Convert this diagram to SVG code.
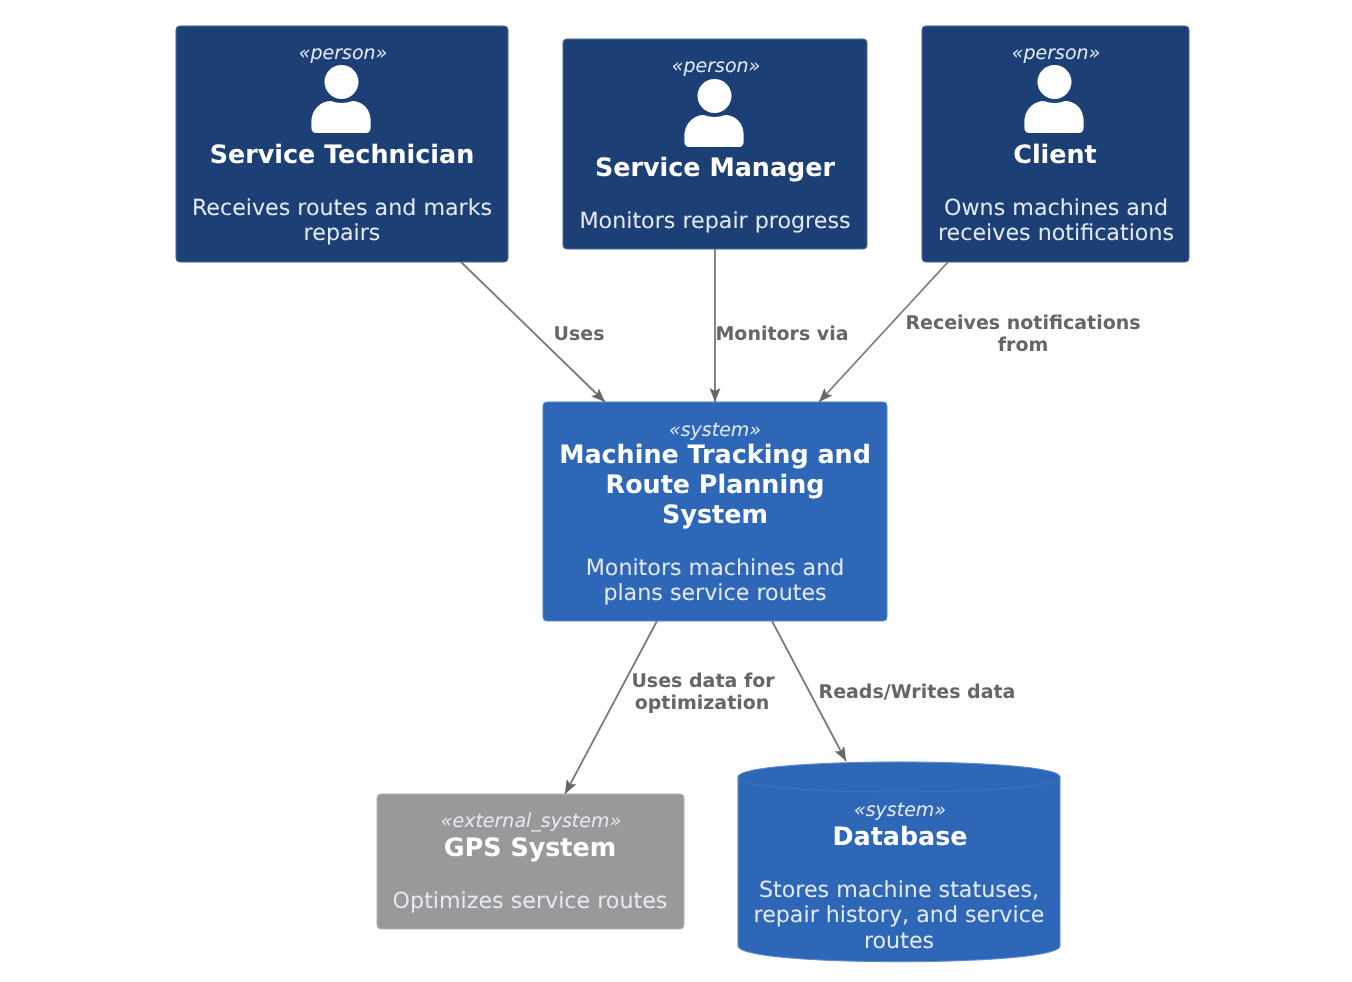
<svg xmlns="http://www.w3.org/2000/svg" width="1352" height="982" viewBox="0 0 1352 982">
<defs>
<filter id="soft" x="0" y="0" width="1352" height="982" filterUnits="userSpaceOnUse" color-interpolation-filters="sRGB"><feGaussianBlur stdDeviation="0.55"/></filter>
<marker id="arrow" markerUnits="userSpaceOnUse" markerWidth="18" markerHeight="16" refX="14" refY="7" orient="auto"><path d="M0,1.500 L14,7 L0,12.500 L3,7 Z" fill="#666666"/></marker>
<symbol id="person" viewBox="0 0 62 70" overflow="visible"><circle cx="31" cy="17.500" r="17.500" fill="#fff"/><path d="M5,70 Q0,70 0,64 L0,57 C1,44 11,37 20,37 Q31,41 42,37 C51,37 61,44 61,57 L61,64 Q61,70 56,70 Z" fill="#fff"/></symbol>
</defs>
<style>
text{font-family:"DejaVu Sans",sans-serif;text-anchor:middle;text-rendering:geometricPrecision}
.st{font-size:19px;font-style:italic;fill:#e4e9f2}
.nm{font-size:25.400px;font-weight:bold;fill:#fff}
.ds{font-size:22.200px;fill:#e4e9f2}
.lb{font-size:19px;font-weight:bold;fill:#666666}
.dark{fill:#1c4076;stroke:#4a6a97;stroke-width:1}
.blue{fill:#2e67b8;stroke:#5a88cc;stroke-width:1}
.gray{fill:#999999;stroke:#b5b5b5;stroke-width:1}
.edge{fill:none;stroke:#777777;stroke-width:1.800;marker-end:url(#arrow)}
</style>
<rect width="1352" height="982" fill="#ffffff"/>
<g filter="url(#soft)">
<g id="connectors">
<path class="edge" d="M461,262 L605,402"/>
<path class="edge" d="M715,249 L715,402"/>
<path class="edge" d="M948,262 L819,402"/>
<path class="edge" d="M657,621 L565,794"/>
<path class="edge" d="M772,621 L846,761"/>
<text class="lb" x="579" y="340">Uses</text>
<text class="lb" x="782" y="340">Monitors via</text>
<text class="lb" x="1023" y="329">Receives notifications</text>
<text class="lb" x="1023" y="351">from</text>
<text class="lb" x="703" y="687">Uses data for</text>
<text class="lb" x="702" y="709">optimization</text>
<text class="lb" x="917" y="698">Reads/Writes data</text>
</g>
<g id="service-technician">
<rect class="dark" x="176" y="26" width="332" height="236" rx="4"/>
<text class="st" x="343" y="59">«person»</text>
<use href="#person" x="311" y="65" width="61" height="68"/>
<text class="nm" x="342" y="163">Service Technician</text>
<text class="ds" x="342" y="215">Receives routes and marks</text>
<text class="ds" x="342" y="240">repairs</text>
</g>
<g id="service-manager">
<rect class="dark" x="563" y="39" width="304" height="210" rx="4"/>
<text class="st" x="716" y="72">«person»</text>
<use href="#person" x="684" y="79" width="61" height="68"/>
<text class="nm" x="715" y="176">Service Manager</text>
<text class="ds" x="715" y="228">Monitors repair progress</text>
</g>
<g id="client">
<rect class="dark" x="922" y="26" width="267" height="236" rx="4"/>
<text class="st" x="1056" y="59">«person»</text>
<use href="#person" x="1024" y="65" width="61" height="68"/>
<text class="nm" x="1055" y="163">Client</text>
<text class="ds" x="1056" y="215">Owns machines and</text>
<text class="ds" x="1056" y="240">receives notifications</text>
</g>
<g id="machine-tracking">
<rect class="blue" x="543" y="402" width="344" height="219" rx="4"/>
<text class="st" x="715" y="436">«system»</text>
<text class="nm" x="715" y="463">Machine Tracking and</text>
<text class="nm" x="715" y="493">Route Planning</text>
<text class="nm" x="715" y="523">System</text>
<text class="ds" x="715" y="575">Monitors machines and</text>
<text class="ds" x="715" y="600">plans service routes</text>
</g>
<g id="gps-system">
<rect class="gray" x="377" y="794" width="307" height="135" rx="4"/>
<text class="st" x="531" y="827">«external_system»</text>
<text class="nm" x="530" y="856">GPS System</text>
<text class="ds" x="530" y="908">Optimizes service routes</text>
</g>
<g id="database">
<path class="blue" d="M738,777 C738,757 1060,757 1060,777 L1060,946 C1060,967 738,967 738,946 Z"/>
<path d="M738,777 C738,797 1060,797 1060,777" fill="none" stroke="#3f74c0" stroke-width="1"/>
<text class="st" x="900" y="816">«system»</text>
<text class="nm" x="900" y="845">Database</text>
<text class="ds" x="899" y="897">Stores machine statuses,</text>
<text class="ds" x="899" y="922">repair history, and service</text>
<text class="ds" x="899" y="948">routes</text>
</g>
</g>
</svg>
